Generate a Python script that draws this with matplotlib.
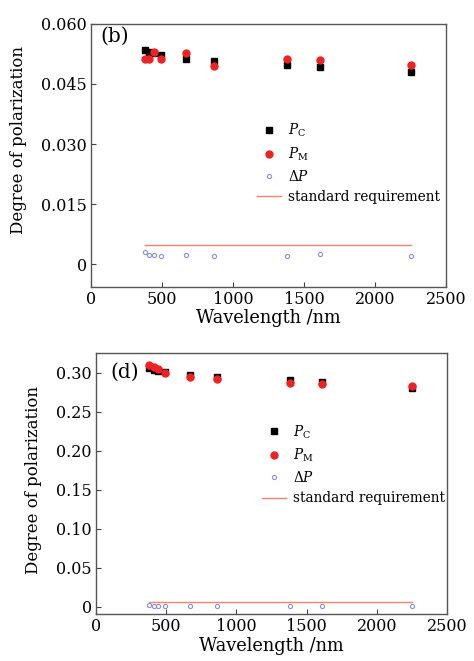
import matplotlib
matplotlib.use('Agg')
import matplotlib.pyplot as plt

plt.rcParams['font.family'] = ['DejaVu Serif']
plt.rcParams['mathtext.fontset'] = 'dejavuserif'

# wavelength bands (nm)
wl = [380, 410, 443, 490, 670, 865, 1380, 1610, 2250]

# panel (b)
pc_b = [0.0535, 0.0530, 0.0527, 0.0523, 0.0512, 0.0506, 0.0497, 0.0493, 0.0481]
pm_b = [0.0513, 0.0513, 0.0530, 0.0512, 0.0527, 0.0494, 0.0512, 0.0510, 0.0497]
dp_b = [0.0032, 0.0023, 0.0023, 0.0022, 0.0024, 0.0021, 0.0021, 0.0026, 0.0022]
std_b = 0.0048

# panel (d)
pc_d = [0.3063, 0.3042, 0.3029, 0.3016, 0.2968, 0.2943, 0.2904, 0.2887, 0.2810]
pm_d = [0.3097, 0.3071, 0.3051, 0.2999, 0.2948, 0.2922, 0.2875, 0.2862, 0.2836]
dp_d = [0.0018, 0.0010, 0.0010, 0.0010, 0.0010, 0.0010, 0.0015, 0.0015, 0.0015]
std_d = 0.0062

xticks = [0, 500, 1000, 1500, 2000, 2500]
yticks_b = [0, 0.015, 0.030, 0.045, 0.060]
ylabels_b = ['0', '0.015', '0.030', '0.045', '0.060']
yticks_d = [0, 0.05, 0.10, 0.15, 0.20, 0.25, 0.30]
ylabels_d = ['0', '0.05', '0.10', '0.15', '0.20', '0.25', '0.30']

FS = 11.5
LFS = 9.8
BLUE = '#8a8fdc'
SALMON = '#f6836e'


def panel(ax, pc, pm, dp, std, ylim, yt, yl, tag, tag_xy, leg_xy, ylab_xy):
    ax.plot([wl[0], wl[-1]], [std, std], color=SALMON, lw=1.0,
            label='standard requirement', zorder=1)
    ax.plot(wl, pc, 's', color='black', ms=4.2, label=r'$P_{\mathrm{C}}$', zorder=3)
    ax.plot(wl, pm, 'o', color='#ee2222', ms=5, label=r'$P_{\mathrm{M}}$', zorder=4)
    ax.plot(wl, dp, 'o', mfc='none', mec=BLUE, mew=0.8, ms=3,
            label=r'$\Delta P$', zorder=2)
    ax.set_xlim(0, 2500)
    ax.set_ylim(*ylim)
    ax.set_xticks(xticks)
    ax.set_xticklabels([str(t) for t in xticks])
    ax.set_yticks(yt)
    ax.set_yticklabels(yl)
    ax.tick_params(direction='in', length=3.5, width=0.8, labelsize=FS,
                   colors='#444444', labelcolor='black', pad=3)
    for s in ax.spines.values():
        s.set_color('#555555')
        s.set_linewidth(1.0)
    ax.set_xlabel('Wavelength /nm', fontsize=12.8, labelpad=1)
    ax.set_ylabel('Degree of polarization', fontsize=11.9)
    ax.yaxis.set_label_coords(*ylab_xy)
    ax.text(tag_xy[0], tag_xy[1], tag, transform=ax.transAxes, fontsize=FS + 3,
            va='top', ha='left')
    h, l = ax.get_legend_handles_labels()
    order = [1, 2, 3, 0]
    ax.legend([h[i] for i in order], [l[i] for i in order], loc='upper left',
              bbox_to_anchor=leg_xy, frameon=False, fontsize=LFS,
              borderpad=0, borderaxespad=0, handlelength=1.75,
              handletextpad=0.5, labelspacing=0.45)


fig = plt.figure(figsize=(4.74, 6.61), dpi=100)
ax1 = fig.add_axes([0.192, 0.566, 0.749, 0.398])
ax2 = fig.add_axes([0.2025, 0.0711, 0.7405, 0.3944])

panel(ax1, pc_b, pm_b, dp_b, std_b, (-0.0056, 0.060), yticks_b, ylabels_b,
      '(b)', (0.025, 0.99), (0.468, 0.627), (-0.180, 0.559))
panel(ax2, pc_d, pm_d, dp_d, std_d, (-0.0094, 0.325), yticks_d, ylabels_d,
      '(d)', (0.04, 0.965), (0.473, 0.732), (-0.154, 0.514))

fig.savefig('out.png', dpi=100)
